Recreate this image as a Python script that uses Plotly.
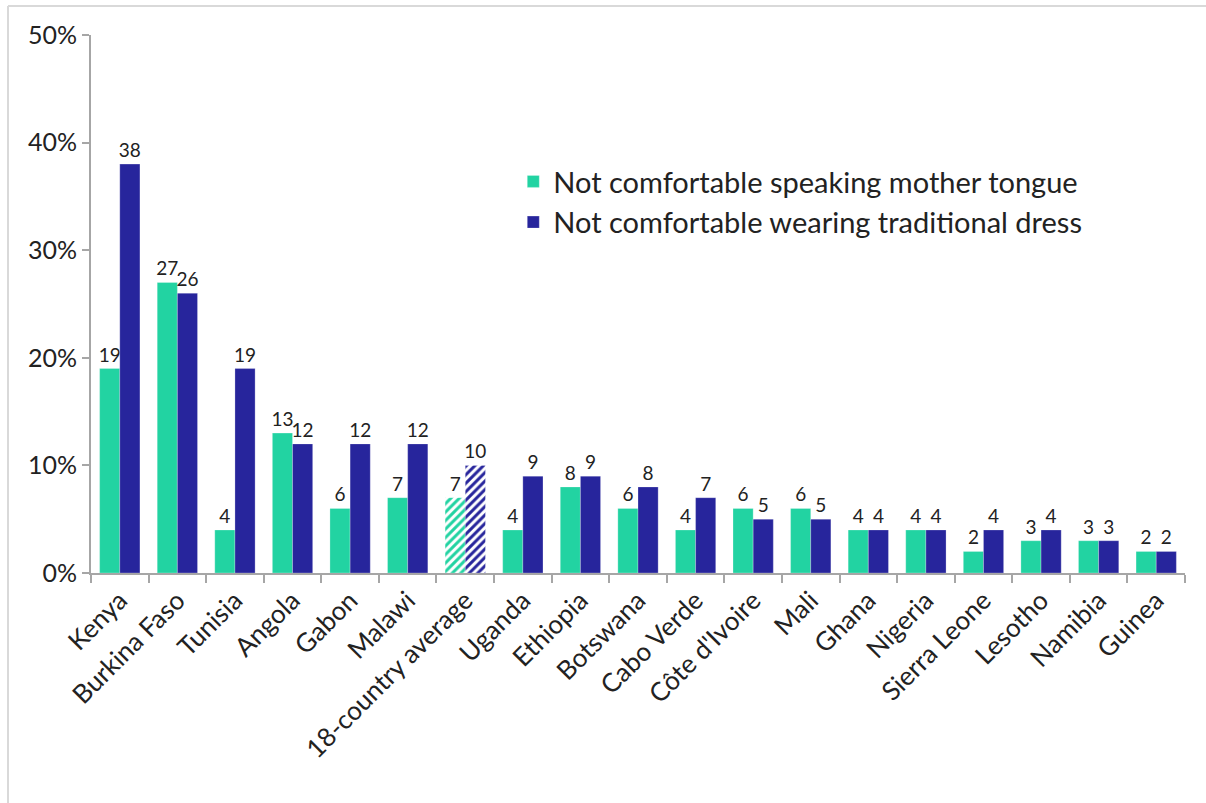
import plotly.graph_objects as go

countries = ["Kenya", "Burkina Faso", "Tunisia", "Angola", "Gabon", "Malawi",
             "18-country average", "Uganda", "Ethiopia", "Botswana", "Cabo Verde",
             "Côte d'Ivoire", "Mali", "Ghana", "Nigeria", "Sierra Leone", "Lesotho",
             "Namibia", "Guinea"]
mother_tongue = [19, 27, 4, 13, 6, 7, 7, 4, 8, 6, 4, 6, 6, 4, 4, 2, 3, 3, 2]
traditional_dress = [38, 26, 19, 12, 12, 12, 10, 9, 9, 8, 7, 5, 5, 4, 4, 4, 4, 3, 2]
y_ticks = [0, 10, 20, 30, 40, 50]
y_tick_labels = [f"{v}%" for v in y_ticks]
series_names = ["Not comfortable speaking mother tongue",
                "Not comfortable wearing traditional dress"]
avg_label = "18-country average"

GREEN = "#22D3A2"
BLUE = "#27259C"
FONT = "Lato, 'Open Sans', sans-serif"

patterns = ["/" if c == avg_label else "" for c in countries]

fig = go.Figure()
for name, vals, col in [(series_names[0], mother_tongue, GREEN),
                        (series_names[1], traditional_dress, BLUE)]:
    fig.add_trace(go.Bar(
        x=countries, y=vals, name=name,
        text=[str(v) for v in vals], textposition="outside",
        constraintext="none",
        textfont=dict(size=19, color="#222222", family=FONT),
        cliponaxis=False,
        marker=dict(color=col,
                    line=dict(color="rgba(255,255,255,0.5)", width=0.5),
                    pattern=dict(shape=patterns, fgcolor=col, bgcolor="white",
                                 size=6, solidity=0.5, fillmode="replace")),
    ))

fig.update_layout(
    width=1206, height=803,
    paper_bgcolor="white", plot_bgcolor="white",
    margin=dict(l=91, r=21, t=35, b=230),
    barmode="group", bargap=0.3, bargroupgap=0,
    font=dict(family=FONT, size=20, color="#222222"),
    legend=dict(x=0.386, y=0.775, xanchor="left", yanchor="top",
                font=dict(size=29, family=FONT, color="#222222"),
                bgcolor="rgba(0,0,0,0)", itemwidth=30, tracegroupgap=0),
    xaxis=dict(tickangle=-45, tickfont=dict(size=26, family=FONT),
               showline=True, linecolor="#A6A6A6", linewidth=2,
               ticks="outside", tickson="boundaries", ticklen=8,
               tickcolor="#A6A6A6", tickwidth=2, showgrid=False),
    yaxis=dict(range=[0, 50], tickvals=y_ticks, ticktext=y_tick_labels,
               tickmode="array",
               tickfont=dict(size=25, family=FONT),
               showline=True, linecolor="#A6A6A6", linewidth=2,
               ticks="outside", ticklen=7, tickcolor="#A6A6A6", tickwidth=2,
               showgrid=False, zeroline=False),
    shapes=[
        dict(type="line", xref="paper", yref="paper",
             x0=(8 - 91) / 1094, x1=(8 - 91) / 1094,
             y0=(573 - 803) / 538, y1=(573 - 6) / 538,
             line=dict(color="#D9D9D9", width=2)),
        dict(type="line", xref="paper", yref="paper",
             x0=(8 - 91) / 1094, x1=(1206 - 91) / 1094,
             y0=(573 - 6) / 538, y1=(573 - 6) / 538,
             line=dict(color="#D9D9D9", width=2)),
    ],
)

fig.write_html("out.html", config={"displayModeBar": False},
               post_script="document.body.style.margin='0';")
